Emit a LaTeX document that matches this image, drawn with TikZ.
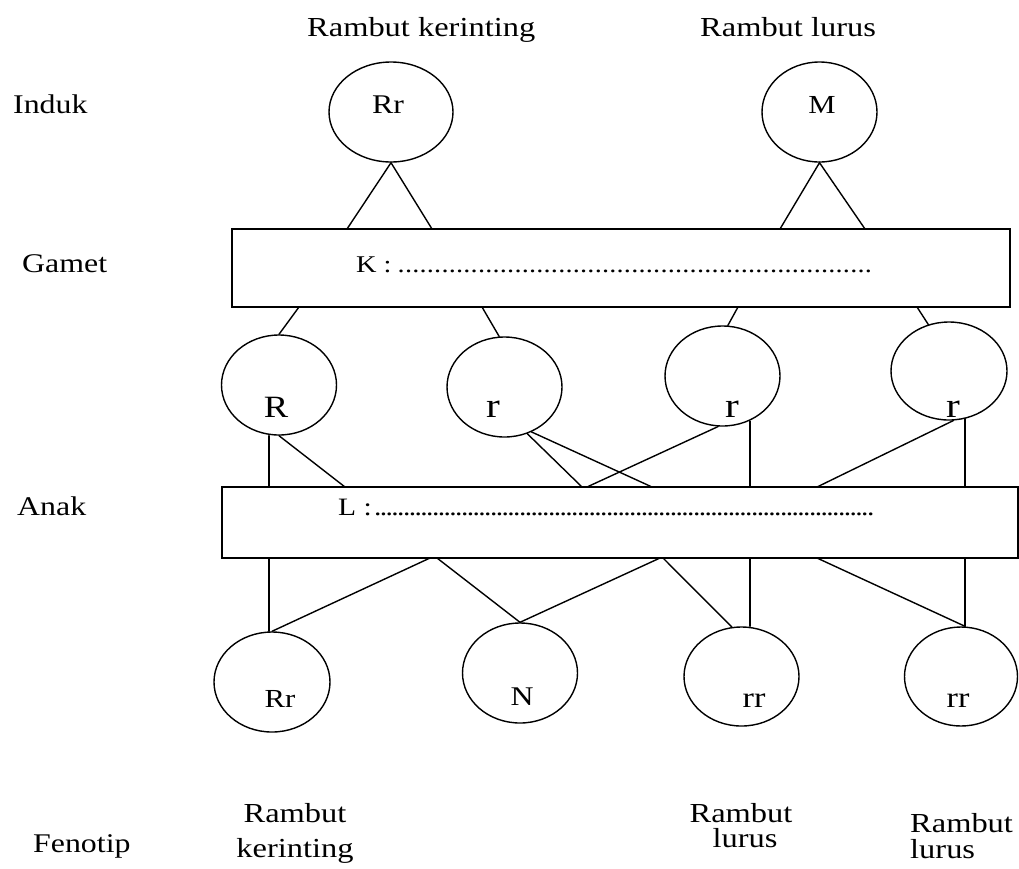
\documentclass[tikz,border=0pt]{standalone}
\usepackage{fontspec}
\setmainfont{Liberation Serif}[FakeStretch=1.18]
\usetikzlibrary{shapes.geometric}
\newcommand\dotsrow[2]{\foreach \i in {1,...,#2}{\makebox[#1]{.}}}
\newcommand\fsz[1]{\fontsize{#1}{#1}\selectfont}
\tikzset{
  ln/.style={line width=1.4pt, line cap=round},
  oval/.style={draw, ellipse, line width=1.4pt, inner sep=0pt},
  bandbox/.style={draw, rectangle, line width=1.4pt, inner sep=0pt},
  txt/.style={inner sep=0pt, anchor=base west, font=\fsz{27}},
  ctxt/.style={inner sep=0pt, anchor=base},
}
\begin{document}
\begin{tikzpicture}[x=1pt, y=-1pt]
\fill[white] (0,0) rectangle (1019,868);
\useasboundingbox (0,0) rectangle (1019,868);

% row labels
\node[txt] (lInduk) at (13,113) {Induk};
\node[txt] (lGamet) at (22,272) {Gamet};
\node[txt] (lAnak) at (17,515) {Anak};
\node[txt] (lFeno) at (33,852) {Fenotip};

% top phenotype labels
\node[txt, font=\fsz{27.5}] (tKer) at (307,36) {Rambut kerinting};
\node[txt, font=\fsz{27.5}] (tLur) at (700,36) {Rambut lurus};

% parents
\node[oval, minimum width=124pt, minimum height=100pt] (P1) at (391,112) {};
\node[oval, minimum width=115pt, minimum height=100pt] (P2) at (819.5,112) {};
\node[ctxt, font=\fsz{27}] (P1t) at (388,113) {Rr};
\node[ctxt, font=\fsz{26}] (P2t) at (822,113) {M};

% gamet box
\node[bandbox, minimum width=778pt, minimum height=78pt] (GB) at (621,268) {};
\node[inner sep=0pt, anchor=base west, font=\fsz{24}] (Kt) at (356,272) {K :\hspace{6pt}\dotsrow{7.3pt}{65}};

% gametes
\node[oval, minimum width=115pt, minimum height=100pt] (G1) at (279,385) {};
\node[oval, minimum width=115pt, minimum height=100pt] (G2) at (504.5,387) {};
\node[oval, minimum width=115pt, minimum height=100pt] (G3) at (722.5,376) {};
\node[oval, minimum width=116pt, minimum height=98pt] (G4) at (949,371) {};
\node[ctxt, font=\fsz{31}] (G1t) at (276,417) {R};
\node[ctxt, font=\fsz{35}] (G2t) at (493,417) {r};
\node[ctxt, font=\fsz{35}] (G3t) at (732,417) {r};
\node[ctxt, font=\fsz{35}] (G4t) at (953,417) {r};

% anak box
\node[bandbox, minimum width=796pt, minimum height=71pt] (LB) at (620,522.5) {};
\node[inner sep=0pt, anchor=base west, font=\fsz{25}] (Lt) at (338,515) {L :\hspace{3pt}\dotsrow{5.8pt}{86}};

% offspring
\node[oval, minimum width=116pt, minimum height=100pt] (O1) at (272,682) {};
\node[oval, minimum width=115pt, minimum height=100pt] (O2) at (520,673) {};
\node[oval, minimum width=115pt, minimum height=99pt] (O3) at (741.5,676.5) {};
\node[oval, minimum width=113pt, minimum height=99pt] (O4) at (961,676.5) {};
\node[ctxt, font=\fsz{26}] (O1t) at (280,707) {Rr};
\node[ctxt, font=\fsz{27}] (O2t) at (522,705) {N};
\node[ctxt, font=\fsz{29}] (O3t) at (754,707) {rr};
\node[ctxt, font=\fsz{29}] (O4t) at (958,707) {rr};

% bottom phenotype labels
\node[ctxt, font=\fsz{27.5}] (f1a) at (295,822) {Rambut};
\node[ctxt, font=\fsz{27.5}] (f1b) at (295,857) {kerinting};
\node[ctxt, font=\fsz{27.5}] (f3a) at (741,822) {Rambut};
\node[ctxt, font=\fsz{27.5}] (f3b) at (745,847) {lurus};
\node[txt, font=\fsz{27.5}] (f4a) at (910,832) {Rambut};
\node[txt, font=\fsz{27.5}] (f4b) at (910,858) {lurus};

% coordinates on box edges
\coordinate (gt1) at (347,229);
\coordinate (gt2) at (432,229);
\coordinate (gt3) at (780,229);
\coordinate (gt4) at (865,229);
\coordinate (gb1) at (299,307);
\coordinate (gb2) at (482,307);
\coordinate (gb3) at (738,307);
\coordinate (gb4) at (917,307);
\coordinate (lt1) at (269,487);
\coordinate (lt2) at (345,487);
\coordinate (lt3) at (582,487);
\coordinate (lt4) at (652,487);
\coordinate (lt5) at (587,487);
\coordinate (lt6) at (750,487);
\coordinate (lt7) at (817,487);
\coordinate (lt8) at (965,487);
\coordinate (lb1) at (269,558);
\coordinate (lb2) at (430,558);
\coordinate (lb3) at (437,558);
\coordinate (lb4) at (660,558);
\coordinate (lb5) at (663,558);
\coordinate (lb6) at (750,558);
\coordinate (lb7) at (817,558);
\coordinate (lb8) at (965,558);

% parents to gamet box
\draw[ln] (gt1) -- (P1.south) -- (gt2);
\draw[ln] (gt3) -- (P2.south) -- (gt4);

% gamet box to gametes
\draw[ln] (gb1) -- (G1.north);
\draw[ln] (gb2) -- (G2.96);
\draw[ln] (gb3) -- (G3.84);
\draw[ln] (gb4) -- (G4.114);

% gametes to anak box
\draw[ln] (G1.south -| lt1) -- (lt1);
\draw[ln] (G1.south) -- (lt2);
\draw[ln] (G2.-64) -- (lt3);
\draw[ln] (G2.-59) -- (lt4);
\draw[ln] (G3.-95) -- (lt5);
\draw[ln] (G3.-60 -| lt6) -- (lt6);
\draw[ln] (G4.-85) -- (lt7);
\draw[ln] (G4.-70 -| lt8) -- (lt8);

% anak box to offspring
\draw[ln] (lb1) -- (lb1 |- O1.north);
\draw[ln] (lb2) -- (O1.north);
\draw[ln] (lb3) -- (O2.north);
\draw[ln] (lb4) -- (O2.north);
\draw[ln] (lb5) -- (O3.101);
\draw[ln] (lb6) -- (lb6 |- O3.north);
\draw[ln] (lb7) -- (lb8 |- O4.north);
\draw[ln] (lb8) -- (lb8 |- O4.north);
\end{tikzpicture}
\end{document}
